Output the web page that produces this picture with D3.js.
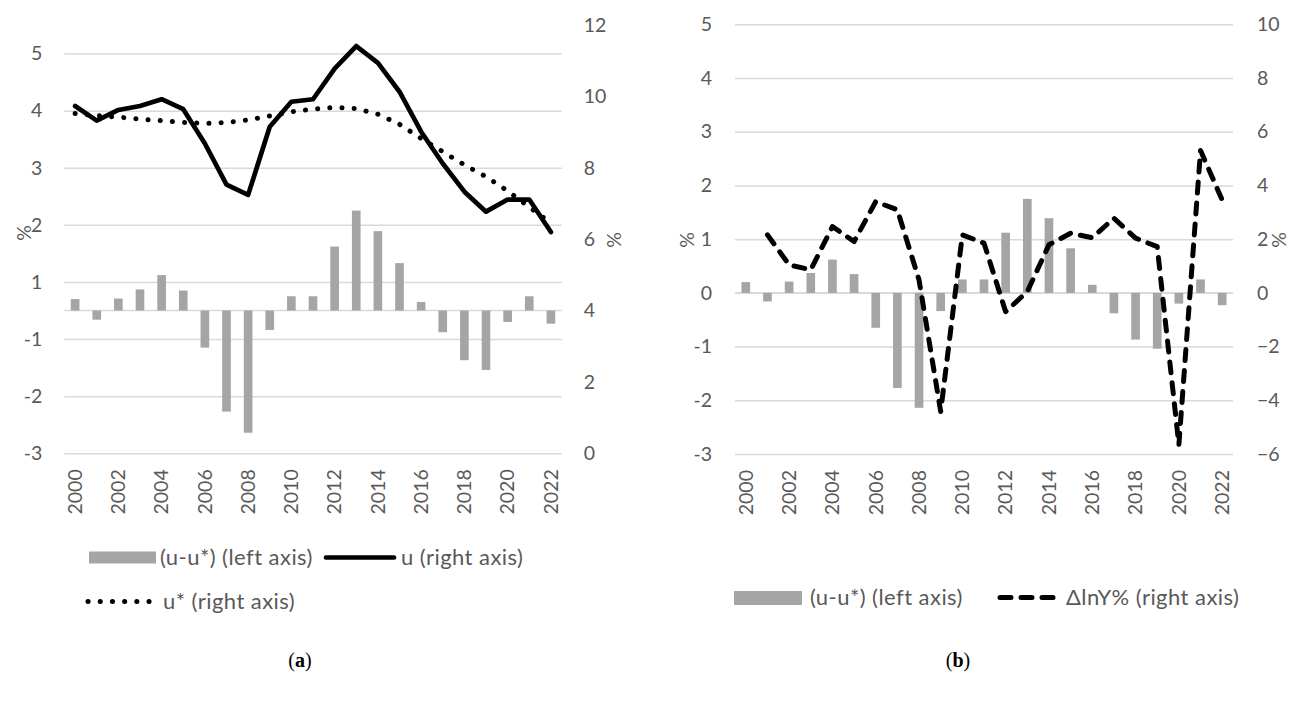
<!DOCTYPE html>
<html>
<head>
<meta charset="utf-8">
<script src="https://cdn.jsdelivr.net/npm/d3@7"></script>
<style>
  body { margin: 0; background: #fff; }
  text { font-family: Lato, "Noto Sans", sans-serif; }
</style>
</head>
<body>
<svg id="fig" width="1290" height="702"></svg>
<script>
// categories
var years = [2000, 2001, 2002, 2003, 2004, 2005, 2006, 2007, 2008, 2009, 2010, 2011,
             2012, 2013, 2014, 2015, 2016, 2017, 2018, 2019, 2020, 2021, 2022];
// (u-u*) gap, left axis
var gap = [0.20, -0.16, 0.21, 0.37, 0.62, 0.35, -0.65, -1.77, -2.14, -0.34, 0.25, 0.25,
           1.12, 1.75, 1.39, 0.83, 0.15, -0.38, -0.87, -1.04, -0.20, 0.25, -0.23];
// u and u*, right axis of (a)
var u = [9.73, 9.32, 9.62, 9.73, 9.92, 9.64, 8.68, 7.53, 7.24, 9.15, 9.85, 9.92,
         10.78, 11.41, 10.94, 10.13, 9.01, 8.12, 7.33, 6.77, 7.11, 7.11, 6.20];
var uStar = [9.52, 9.46, 9.42, 9.36, 9.32, 9.27, 9.24, 9.27, 9.34, 9.45, 9.57, 9.64,
             9.69, 9.66, 9.50, 9.22, 8.82, 8.45, 8.08, 7.75, 7.35, 6.90, 6.45];
// ΔlnY%, right axis of (b)
var dlnY = [null, 2.16, 1.04, 0.86, 2.47, 1.91, 3.40, 3.09, 0.48, -4.42, 2.16, 1.85,
            -0.70, 0.05, 1.79, 2.22, 2.05, 2.78, 2.04, 1.72, -5.66, 5.30, 3.46];
// tick values
var leftTicksA = [-2.5, -1.5, -0.5, 0.5, 1.5, 2.5, 3.5, 4.5];
var rightTicksA = [0, 2, 4, 6, 8, 10, 12];
var leftTicksB = [-3, -2, -1, 0, 1, 2, 3, 4, 5];
var rightTicksB = [-6, -4, -2, 0, 2, 4, 6, 8, 10];

var tickColor = '#595959', gridColor = '#d9d9d9', barColor = '#a5a5a5', fs = 19.5, legFs = 22;

var svg = d3.select('#fig');
svg.append('rect').attr('width', 1290).attr('height', 702).attr('fill', '#fff');

// excel style rounding of the left labels (0 decimals)
var roundLabel = function(v) { return (v < 0 ? '-' : '') + Math.round(Math.abs(v)); };

var drawPanel = function(p) {
    var g = svg.append('g');
    var x = d3.scaleBand().domain(years).range([p.x0, p.x1]).paddingInner(0.6).paddingOuter(0.3);
    var yL = d3.scaleLinear().domain(p.leftDomain).range([p.yBottom, p.yTop]);
    var yR = d3.scaleLinear().domain(p.rightDomain).range([p.yBottom, p.yTop]);
    var width = p.x1 - p.x0;

    // gridlines + left labels
    var leftAxis = d3.axisLeft(yL).tickValues(p.leftTicks).tickSizeInner(-width).tickSizeOuter(0)
                     .tickPadding(p.padL).tickFormat(roundLabel);
    var ga = g.append('g').attr('transform', 'translate(' + p.x0 + ',0)').call(leftAxis);
    ga.select('.domain').remove();
    ga.selectAll('line').attr('stroke', gridColor).attr('stroke-width', 1.5);
    ga.selectAll('text').attr('fill', tickColor).style('font-size', fs + 'px');

    // zero line (category axis)
    g.append('line').attr('x1', p.x0).attr('x2', p.x1)
        .attr('y1', yL(0)).attr('y2', yL(0))
        .attr('stroke', gridColor).attr('stroke-width', 1.5);

    // right labels
    var rightAxis = d3.axisRight(yR).tickValues(p.rightTicks).tickSize(0).tickPadding(p.padR);
    var gr = g.append('g').attr('transform', 'translate(' + p.x1 + ',0)').call(rightAxis);
    gr.select('.domain').remove();
    gr.selectAll('text').attr('fill', tickColor).style('font-size', fs + 'px');

    // year labels, rotated
    var xAxis = d3.axisBottom(x).tickValues(years.filter(function(d) { return d % 2 == 0; })).tickSize(0);
    var gx = g.append('g').attr('transform', 'translate(0,' + p.yBottom + ')').call(xAxis);
    gx.select('.domain').remove();
    gx.selectAll('text')
        .attr('transform', 'rotate(-90)')
        .attr('x', -16).attr('y', 0).attr('dy', '0.35em')
        .attr('text-anchor', 'end')
        .attr('fill', tickColor).style('font-size', fs + 'px');

    // bars
    g.selectAll('rect.bar').data(gap).enter().append('rect')
        .attr('class', 'bar')
        .attr('x', function(d, i) { return x(years[i]); })
        .attr('width', x.bandwidth())
        .attr('y', function(d) { return yL(Math.max(0, d)); })
        .attr('height', function(d) { return Math.abs(yL(d) - yL(0)); })
        .attr('fill', barColor);

    var cx = function(i) { return x(years[i]) + x.bandwidth() / 2; };
    p.lines.forEach(function(s) {
        var line = d3.line()
            .defined(function(d) { return d != null; })
            .x(function(d, i) { return cx(i); })
            .y(function(d) { return yR(d); });
        g.append('path')
            .attr('d', line(s.values))
            .attr('fill', 'none')
            .attr('stroke', '#000')
            .attr('stroke-width', s.width)
            .attr('stroke-linejoin', 'round')
            .attr('stroke-linecap', 'round')
            .attr('stroke-dasharray', s.dash);
    });

    // % titles
    p.titles.forEach(function(t) {
        g.append('text')
            .attr('transform', 'translate(' + t[0] + ',' + t[1] + ') rotate(-90)')
            .attr('text-anchor', 'middle').attr('dy', '0.35em')
            .attr('fill', tickColor).style('font-size', fs + 'px')
            .text('%');
    });
};

drawPanel({
    x0: 64.3, x1: 561.7, yTop: 25, yBottom: 453.3,
    leftDomain: [-2.5, 5], rightDomain: [0, 12],
    leftTicks: leftTicksA, rightTicks: rightTicksA,
    padL: 22, padR: 22,
    lines: [
        { values: u, width: 4.7, dash: null },
        { values: uStar, width: 5, dash: '0.1 12.1' }
    ],
    titles: [[24, 233], [614, 240]]
});

drawPanel({
    x0: 735, x1: 1233, yTop: 24.3, yBottom: 454,
    leftDomain: [-3, 5], rightDomain: [-6, 10],
    leftTicks: leftTicksB, rightTicks: rightTicksB,
    padL: 23, padR: 24,
    lines: [
        { values: dlnY, width: 5, dash: '11 10' }
    ],
    titles: [[687, 240], [1279, 240]]
});

// legends
var legendText = function(xp, yp, s) {
    svg.append('text').attr('x', xp).attr('y', yp).attr('dy', '0.35em')
        .attr('fill', tickColor).style('font-size', legFs + 'px')
        .style('letter-spacing', '0.45px').text(s);
};
svg.append('rect').attr('x', 89).attr('y', 551.5).attr('width', 67).attr('height', 12).attr('fill', barColor);
legendText(160, 557.5, '(u-u*) (left axis)');
svg.append('line').attr('x1', 326).attr('x2', 394).attr('y1', 557.5).attr('y2', 557.5)
    .attr('stroke', '#000').attr('stroke-width', 4.7).attr('stroke-linecap', 'round');
legendText(401, 557.5, 'u (right axis)');
svg.append('line').attr('x1', 88).attr('x2', 152).attr('y1', 601.5).attr('y2', 601.5)
    .attr('stroke', '#000').attr('stroke-width', 5).attr('stroke-linecap', 'round')
    .attr('stroke-dasharray', '0.1 12.1');
legendText(163, 601.5, 'u* (right axis)');

svg.append('rect').attr('x', 734).attr('y', 591).attr('width', 68).attr('height', 14).attr('fill', barColor);
legendText(810, 597.5, '(u-u*) (left axis)');
svg.append('line').attr('x1', 1000).attr('x2', 1059).attr('y1', 597.5).attr('y2', 597.5)
    .attr('stroke', '#000').attr('stroke-width', 5).attr('stroke-linecap', 'round')
    .attr('stroke-dasharray', '11 10');
legendText(1066, 597.5, '\u0394lnY% (right axis)');

// captions
[['a', 300], ['b', 958]].forEach(function(c) {
    var t = svg.append('text').attr('x', c[1]).attr('y', 667).attr('text-anchor', 'middle')
        .style('font-family', '"Liberation Serif", serif').style('font-size', '20px').attr('fill', '#000');
    t.append('tspan').text('(');
    t.append('tspan').style('font-weight', 'bold').text(c[0]);
    t.append('tspan').text(')');
});
</script>
</body>
</html>
